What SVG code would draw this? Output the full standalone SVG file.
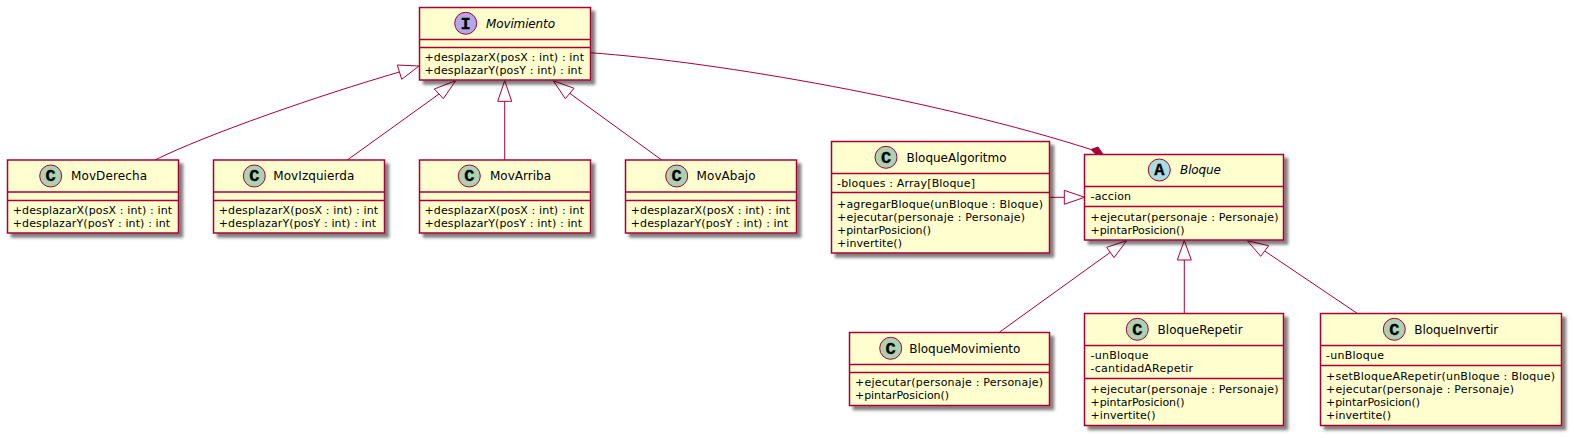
<svg xmlns="http://www.w3.org/2000/svg" width="1574" height="438" viewBox="0 0 1574 438">
<style>
.box{fill:#FEFECE;stroke:#A80036;stroke-width:1.5;filter:url(#sh)}
.sep{stroke:#A80036;stroke-width:1.5;fill:none}
.edge{stroke:#A80036;stroke-width:1;fill:none}
.tri{stroke:#A80036;stroke-width:1;fill:#FFFFFF}
.dia{stroke:#A80036;stroke-width:1;fill:#A80036}
.cir{stroke:#A80036;stroke-width:1}
.c{fill:#ADD1B2}.i{fill:#B4A7E5}.a{fill:#A9DCDF}
text{font-family:"DejaVu Sans",sans-serif;fill:#000}
.t{font-size:12px}
.ti{font-size:12px;font-style:italic}
.m{font-size:11px}
.g{font-family:"Liberation Mono",monospace;font-size:17px;font-weight:bold;text-anchor:middle;stroke:#000;stroke-width:.3}
</style>
<defs><filter id="sh" x="-10%" y="-10%" width="120%" height="125%"><feGaussianBlur in="SourceAlpha" stdDeviation="1.7"/><feOffset dx="4" dy="4"/><feComponentTransfer><feFuncA type="linear" slope="0.5"/></feComponentTransfer><feMerge><feMergeNode/><feMergeNode in="SourceGraphic"/></feMerge></filter></defs>
<g id="connectors">
<path class="edge" d="M155,160 C205,135 320,95 399.5,72"/><polygon class="tri" points="419,66 397.3,65 401.7,79.3"/>
<path class="edge" d="M347.3,160 L439,94"/><polygon class="tri" points="455.7,80.7 434.3,89 443.3,98.7"/>
<path class="edge" d="M504.7,160 L504.7,101.3"/><polygon class="tri" points="504.7,80.7 497.7,101.3 511.7,101.3"/>
<path class="edge" d="M661.7,160 L570,93.5"/><polygon class="tri" points="553.3,80.7 574,88.3 565.3,98.7"/>
<path class="edge" d="M590,52.7 C720,62 940,101 1091,149.5"/><polygon class="dia" points="1103,154.3 1098,147 1091,149.5 1096,154.5"/>
<path class="edge" d="M1049.7,197.3 L1064.3,197.3"/><polygon class="tri" points="1084.5,197.3 1064.3,190.3 1064.3,204.3"/>
<path class="edge" d="M999.3,332.3 L1110,252.5"/><polygon class="tri" points="1126.7,240.7 1106.7,247.3 1114,257.7"/>
<path class="edge" d="M1184.3,313.7 L1184.3,260"/><polygon class="tri" points="1184.3,240.5 1177.3,260 1191.3,260"/>
<path class="edge" d="M1357.7,313.7 L1264.7,251"/><polygon class="tri" points="1247.3,240.7 1268.7,245.7 1260.7,256.3"/>
</g>
<g id="Movimiento">
<rect class="box" x="419.5" y="7.5" width="171" height="72.5"/><path class="sep" d="M419.5,39.5H590.5M419.5,47.5H590.5"/>
<circle class="cir i" cx="465.7" cy="23.3" r="11"/><text class="g" x="465.7" y="28.5">I</text>
<text class="ti" x="486" y="27.5" textLength="69">Movimiento</text>
<text class="m" x="424.5" y="61.3" textLength="159.5">+desplazarX(posX : int) : int</text><text class="m" x="424.5" y="74" textLength="157.5">+desplazarY(posY : int) : int</text>
</g>
<g id="MovDerecha">
<rect class="box" x="7.5" y="160" width="171" height="73"/><path class="sep" d="M7.5,192H178.5M7.5,200.5H178.5"/>
<circle class="cir c" cx="50.7" cy="176" r="11"/><text class="g" x="50.7" y="181.2">C</text>
<text class="t" x="71" y="180" textLength="76">MovDerecha</text>
<text class="m" x="12.7" y="213.7" textLength="159.5">+desplazarX(posX : int) : int</text><text class="m" x="12.7" y="226.5" textLength="157.5">+desplazarY(posY : int) : int</text>
</g>
<g id="MovIzquierda">
<rect class="box" x="213.5" y="160" width="171" height="73"/><path class="sep" d="M213.5,192H384.5M213.5,200.5H384.5"/>
<circle class="cir c" cx="254.3" cy="176" r="11"/><text class="g" x="254.3" y="181.2">C</text>
<text class="t" x="273.3" y="180" textLength="81">MovIzquierda</text>
<text class="m" x="218.7" y="213.7" textLength="159.5">+desplazarX(posX : int) : int</text><text class="m" x="218.7" y="226.5" textLength="157.5">+desplazarY(posY : int) : int</text>
</g>
<g id="MovArriba">
<rect class="box" x="419.5" y="160" width="171" height="73"/><path class="sep" d="M419.5,192H590.5M419.5,200.5H590.5"/>
<circle class="cir c" cx="469.3" cy="176" r="11"/><text class="g" x="469.3" y="181.2">C</text>
<text class="t" x="490" y="180" textLength="61">MovArriba</text>
<text class="m" x="424.5" y="213.7" textLength="159.5">+desplazarX(posX : int) : int</text><text class="m" x="424.5" y="226.5" textLength="157.5">+desplazarY(posY : int) : int</text>
</g>
<g id="MovAbajo">
<rect class="box" x="625.5" y="160" width="171" height="73"/><path class="sep" d="M625.5,192H796.5M625.5,200.5H796.5"/>
<circle class="cir c" cx="676.7" cy="176" r="11"/><text class="g" x="676.7" y="181.2">C</text>
<text class="t" x="696.6" y="180" textLength="59">MovAbajo</text>
<text class="m" x="630.7" y="213.7" textLength="159.5">+desplazarX(posX : int) : int</text><text class="m" x="630.7" y="226.5" textLength="157.5">+desplazarY(posY : int) : int</text>
</g>
<g id="BloqueAlgoritmo">
<rect class="box" x="831.5" y="141.5" width="218" height="111.5"/><path class="sep" d="M831.5,173.5H1049.5M831.5,192.5H1049.5"/>
<circle class="cir c" cx="886" cy="157.3" r="11"/><text class="g" x="886" y="162.5">C</text>
<text class="t" x="906.5" y="161.5" textLength="100">BloqueAlgoritmo</text>
<text class="m" x="837" y="187.3" textLength="138">-bloques : Array[Bloque]</text>
<text class="m" x="837" y="208" textLength="206">+agregarBloque(unBloque : Bloque)</text><text class="m" x="837" y="221" textLength="188">+ejecutar(personaje : Personaje)</text><text class="m" x="837" y="234" textLength="94">+pintarPosicion()</text><text class="m" x="837" y="246.5" textLength="65">+invertite()</text>
</g>
<g id="Bloque">
<rect class="box" x="1084.5" y="154.5" width="199" height="85.5"/><path class="sep" d="M1084.5,186.5H1283.5M1084.5,206.5H1283.5"/>
<circle class="cir a" cx="1159.3" cy="170" r="11"/><text class="g" x="1159.3" y="175.2">A</text>
<text class="ti" x="1180" y="174" textLength="41">Bloque</text>
<text class="m" x="1090.5" y="200" textLength="40.5">-accion</text>
<text class="m" x="1090.5" y="220.7" textLength="188">+ejecutar(personaje : Personaje)</text><text class="m" x="1090.5" y="234" textLength="94">+pintarPosicion()</text>
</g>
<g id="BloqueMovimiento">
<rect class="box" x="849.5" y="332.5" width="200" height="73"/><path class="sep" d="M849.5,364.5H1049.5M849.5,372.5H1049.5"/>
<circle class="cir c" cx="890.7" cy="348.3" r="11"/><text class="g" x="890.7" y="353.5">C</text>
<text class="t" x="909.3" y="352.5" textLength="111">BloqueMovimiento</text>
<text class="m" x="855" y="385.7" textLength="188">+ejecutar(personaje : Personaje)</text><text class="m" x="855" y="399" textLength="94">+pintarPosicion()</text>
</g>
<g id="BloqueRepetir">
<rect class="box" x="1084.5" y="313.5" width="199" height="112"/><path class="sep" d="M1084.5,345.5H1283.5M1084.5,378.5H1283.5"/>
<circle class="cir c" cx="1137.3" cy="329.3" r="11"/><text class="g" x="1137.3" y="334.5">C</text>
<text class="t" x="1157.6" y="333.5" textLength="85">BloqueRepetir</text>
<text class="m" x="1090.5" y="358.7" textLength="58">-unBloque</text><text class="m" x="1090.5" y="372" textLength="102.5">-cantidadARepetir</text>
<text class="m" x="1090.5" y="392.7" textLength="188">+ejecutar(personaje : Personaje)</text><text class="m" x="1090.5" y="406" textLength="94">+pintarPosicion()</text><text class="m" x="1090.5" y="418.5" textLength="65">+invertite()</text>
</g>
<g id="BloqueInvertir">
<rect class="box" x="1320.5" y="313.5" width="241" height="112"/><path class="sep" d="M1320.5,345.5H1561.5M1320.5,365.5H1561.5"/>
<circle class="cir c" cx="1394.3" cy="329.3" r="11"/><text class="g" x="1394.3" y="334.5">C</text>
<text class="t" x="1414.3" y="333.5" textLength="84">BloqueInvertir</text>
<text class="m" x="1326" y="358.7" textLength="58">-unBloque</text>
<text class="m" x="1326" y="380" textLength="229">+setBloqueARepetir(unBloque : Bloque)</text><text class="m" x="1326" y="393" textLength="188">+ejecutar(personaje : Personaje)</text><text class="m" x="1326" y="406" textLength="94">+pintarPosicion()</text><text class="m" x="1326" y="418.5" textLength="65">+invertite()</text>
</g>
</svg>
